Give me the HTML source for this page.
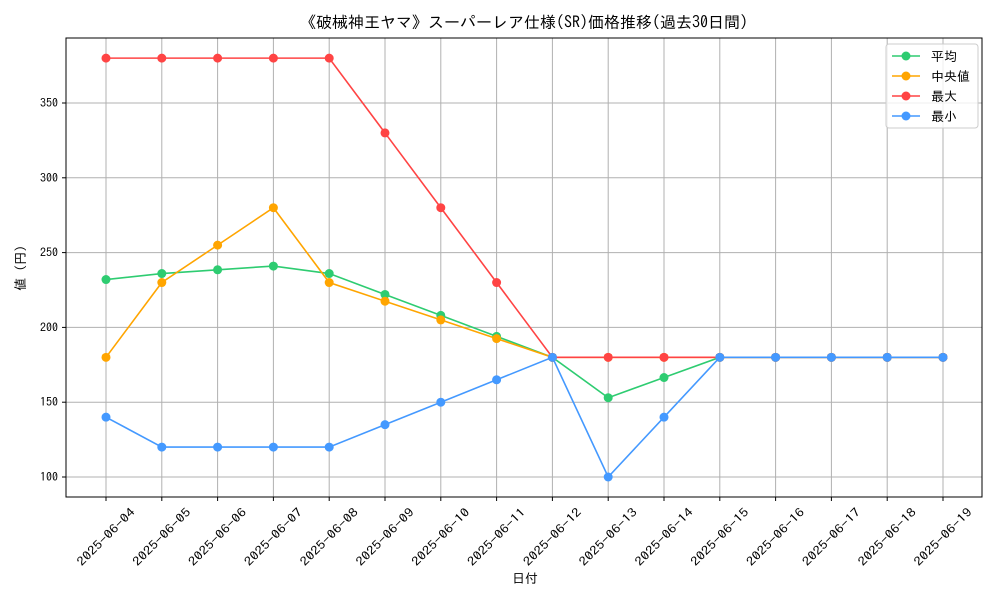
<!DOCTYPE html>
<html><head><meta charset="utf-8"><style>
body{margin:0;background:#fff;}
svg text{font-family:"IPAGothic","Noto Sans CJK JP",sans-serif;fill:#000;}
</style></head><body>
<svg id="chart" width="1000" height="600" xmlns="http://www.w3.org/2000/svg">
<rect width="1000" height="600" fill="#fff"/>
<text x="524" y="28" font-size="16" text-anchor="middle">《破械神王ヤマ》スーパーレア仕様(SR)価格推移(過去30日間)</text>
<g id="grid"></g>
<rect x="66" y="38" width="916" height="459" fill="none" stroke="#000" stroke-width="1"/>
<g id="axes"></g>
<g id="series"></g>
<text x="525" y="583" font-size="13" text-anchor="middle">日付</text>
<text transform="translate(25,268) rotate(-90)" font-size="13" text-anchor="middle">値 (円)</text>
<g id="legend">
<rect x="886" y="44" width="92" height="84" rx="3" fill="#fff" fill-opacity="0.8" stroke="#ccc"/>
</g>
</svg>
<script>
const dates=["2025-06-04","2025-06-05","2025-06-06","2025-06-07","2025-06-08","2025-06-09","2025-06-10","2025-06-11","2025-06-12","2025-06-13","2025-06-14","2025-06-15","2025-06-16","2025-06-17","2025-06-18","2025-06-19"];
const avgVals=[232,236,238.5,241,236,222,208,194,180,153,166.5,180,180,180,180,180];
const medianVals=[180,230,255,280,230,217.5,205,192.5,180,180,180,180,180,180,180,180];
const maxVals=[380,380,380,380,380,330,280,230,180,180,180,180,180,180,180,180];
const minVals=[140,120,120,120,120,135,150,165,180,100,140,180,180,180,180,180];
const yTicks=[100,150,200,250,300,350];
const seriesNames=["平均","中央値","最大","最小"];
const NS="http://www.w3.org/2000/svg";
function xs(i){return 106+i*(943-106)/(dates.length-1);}
function ys(v){return 477-(v-100)*(477-103)/250;}
function mk(tag,attrs,parent){const e=document.createElementNS(NS,tag);for(const k in attrs)e.setAttribute(k,attrs[k]);parent.appendChild(e);return e;}
const grid=document.getElementById('grid'),axes=document.getElementById('axes'),ser=document.getElementById('series'),leg=document.getElementById('legend');
dates.forEach((d,i)=>{
 const x=xs(i);
 const g=mk('line',{x1:x,x2:x,y1:38,y2:497,stroke:'#b0b0b0','stroke-width':1},grid);
 
 
 mk('line',{x1:x,x2:x,y1:497,y2:501,stroke:'#000'},axes);
 const t=mk('text',{x:x,y:541,'font-size':12,'text-anchor':'middle',textLength:76,lengthAdjust:'spacingAndGlyphs',transform:`rotate(-45 ${x} 537)`},axes);
 t.textContent=d;
 
 
});
yTicks.forEach(v=>{
 const y=ys(v);
 const g=mk('line',{x1:66,x2:982,y1:y,y2:y,stroke:'#b0b0b0','stroke-width':1},grid);
 
 
 mk('line',{x1:62,x2:66,y1:y,y2:y,stroke:'#000'},axes);
 const t=mk('text',{x:58,y:y+4,'font-size':12,'text-anchor':'end'},axes);
 t.textContent=v;
 
 
});
const all=[[avgVals,'#2ecc71','avg'],[medianVals,'#ffa500','median'],[maxVals,'#ff4444','max'],[minVals,'#4499ff','min']];
all.forEach(([vals,c,n],si)=>{
 const g=mk('g',{},ser);
 
 
 const pl=mk('polyline',{points:vals.map((v,i)=>xs(i)+','+ys(v)).join(' '),fill:'none',stroke:c,'stroke-width':1.6},g);
 
 
 vals.forEach((v,i)=>{
  const p=mk('circle',{cx:xs(i),cy:ys(v),r:4.5,fill:c},g);
  
  
 });
 const ly=56+si*20;
 const le=mk('g',{},leg);
 
 
 mk('line',{x1:892,x2:920,y1:ly,y2:ly,stroke:c,'stroke-width':1.6},le);
 mk('circle',{cx:906,cy:ly,r:4.5,fill:c},le);
 const t=mk('text',{x:931,y:ly+5,'font-size':13},le);
 t.textContent=seriesNames[si];
});
</script>
</body></html>
